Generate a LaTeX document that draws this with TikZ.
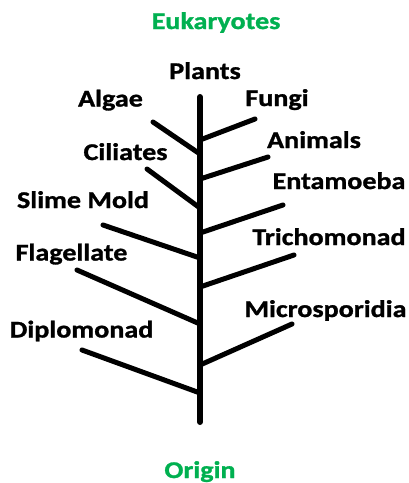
\documentclass[tikz,border=0pt]{standalone}
\usepackage{fontspec}
\setmainfont{Carlito}[FakeStretch=1.17, BoldFeatures={FakeBold=1.2}]
\definecolor{leafgreen}{RGB}{0,176,80}

\begin{document}
\begin{tikzpicture}[x=1pt, y=-1pt,
    taxon/.style={anchor=base, inner sep=0pt, font=\fontsize{24}{24}\selectfont\bfseries},
    pole/.style={taxon, text=leafgreen},
    stem/.style={line width=6pt, line cap=round},
    branch/.style={line width=5pt, line cap=round}
]
    \useasboundingbox (0,0) rectangle (409,483);

    \node[pole] (euk) at (216,29) {Eukaryotes};
    \node[pole] (origin) at (200,478) {Origin};

    \node[taxon] (plants) at (205,79) {Plants};
    \node[taxon] (algae) at (110.5,106.5) {Algae};
    \node[taxon] (fungi) at (277,106) {Fungi};
    \node[taxon] (animals) at (314,148) {Animals};
    \node[taxon] (ciliates) at (125.5,160) {Ciliates};
    \node[taxon] (entamoeba) at (339,189) {Entamoeba};
    \node[taxon] (slime) at (83,208) {Slime Mold};
    \node[taxon] (tricho) at (329,245) {Trichomonad};
    \node[taxon] (flag) at (71.5,260.5) {Flagellate};
    \node[taxon] (micro) at (325.5,317) {Microsporidia};
    \node[taxon] (diplo) at (81.5,337.5) {Diplomonad};

    % trunk
    \coordinate (top) at (200,97);
    \coordinate (root) at (200,422);
    \draw[stem] (top) -- (root);

    % branch tips and where they meet the trunk
    \coordinate (algaetip) at (153,122);   \coordinate (algaej) at (200,154);
    \coordinate (fungitip) at (255,119);   \coordinate (fungij) at (200,140);
    \coordinate (animaltip) at (268,157);  \coordinate (animalj) at (200,179);
    \coordinate (ciliatetip) at (147,169); \coordinate (ciliatej) at (200,208);
    \coordinate (entatip) at (283,205);    \coordinate (entaj) at (200,233);
    \coordinate (slimetip) at (103,225);   \coordinate (slimej) at (200,258);
    \coordinate (trichotip) at (294,255);  \coordinate (trichoj) at (200,287);
    \coordinate (flagtip) at (77,270);     \coordinate (flagj) at (200,324);
    \coordinate (microtip) at (292,324);   \coordinate (microj) at (200,365);
    \coordinate (diplotip) at (82,350);    \coordinate (diploj) at (200,393);

    \draw[branch] (algaetip) -- (algaej);
    \draw[branch] (fungij) -- (fungitip);
    \draw[branch] (animalj) -- (animaltip);
    \draw[branch] (ciliatetip) -- (ciliatej);
    \draw[branch] (entaj) -- (entatip);
    \draw[branch] (slimetip) -- (slimej);
    \draw[branch] (trichoj) -- (trichotip);
    \draw[branch] (flagtip) -- (flagj);
    \draw[branch] (microj) -- (microtip);
    \draw[branch] (diplotip) -- (diploj);
\end{tikzpicture}
\end{document}
